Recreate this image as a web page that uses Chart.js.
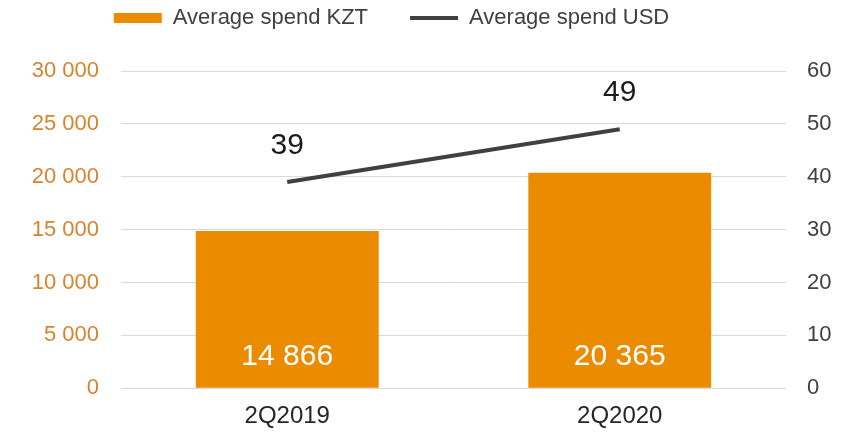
<!DOCTYPE html>
<html>
<head>
<meta charset="utf-8">
<script src="https://cdn.jsdelivr.net/npm/chart.js@4/dist/chart.umd.min.js"></script>
<style>
	html, body { margin: 0; padding: 0; background: #fff; }
	#wrap { width: 859px; height: 433px; }
</style>
</head>
<body>
<div id="wrap"><canvas id="spend"></canvas></div>
<script>
var quarters = ["2Q2019", "2Q2020"];
var spendKzt = [14866, 20365];
var spendUsd = [39, 49];
var kztTicks = [0, 5000, 10000, 15000, 20000, 25000, 30000];
var usdTicks = [0, 10, 20, 30, 40, 50, 60];

var fontName = "'Liberation Sans', Arial, sans-serif";
var orange = "#EA8B00";
var dark = "#404040";

function formatNumber(n)
{
	return String(n).replace(/\B(?=(\d{3})+(?!\d))/g, " ");
}

// draws the numbers on bars and above the line points
var valueLabels = {
	id: "valueLabels",
	afterDatasetsDraw: function(chart) {
		var ctx = chart.ctx;
		ctx.save();
		ctx.textAlign = "center";
		ctx.textBaseline = "middle";
		ctx.font = "30px " + fontName;

		var bars = chart.getDatasetMeta(0).data;
		ctx.fillStyle = "#ffffff";
		for (var i = 0; i < bars.length; i++) {
			ctx.fillText(formatNumber(spendKzt[i]), bars[i].x, bars[i].base - 31);
		}

		var points = chart.getDatasetMeta(1).data;
		ctx.fillStyle = "#1a1a1a";
		for (var j = 0; j < points.length; j++) {
			ctx.fillText(String(spendUsd[j]), points[j].x, points[j].y - 36);
		}
		ctx.restore();
	}
};

var chart = new Chart(document.getElementById("spend").getContext("2d"), {
	data: {
		labels: quarters,
		datasets: [{
			type: "bar",
			label: "Average spend KZT",
			data: spendKzt,
			backgroundColor: orange,
			borderWidth: 0,
			yAxisID: "y",
			categoryPercentage: 1,
			barPercentage: 0.55
		}, {
			type: "line",
			label: "Average spend USD",
			data: spendUsd,
			borderColor: dark,
			backgroundColor: dark,
			borderWidth: 4,
			pointRadius: 0,
			yAxisID: "y1"
		}]
	},
	options: {
		responsive: true,
		maintainAspectRatio: false,
		animation: false,
		layout: { padding: { top: -35, left: -76, right: 0, bottom: -12 } },
		plugins: {
			tooltip: { enabled: false },
			// empty title used as a gap between legend and plot
			title: {
				display: true,
				text: "",
				weight: 500,
				font: { size: 10 },
				padding: { top: 20, bottom: 0 }
			},
			legend: {
				display: true,
				position: "top",
				align: "center",
				labels: {
					usePointStyle: true,
					pointStyleWidth: 48,
					boxHeight: 10,
					padding: 42,
					color: dark,
					font: { family: fontName, size: 22 },
					generateLabels: function(c) {
						var items = Chart.defaults.plugins.legend.labels.generateLabels(c);
						items[0].pointStyle = "rect";
						items[0].lineWidth = 0;
						items[1].pointStyle = "line";
						items[1].lineWidth = 4;
						items[1].strokeStyle = dark;
						return items;
					}
				}
			}
		},
		scales: {
			x: {
				grid: { display: false, drawTicks: false },
				border: { display: false },
				ticks: { color: "#262626", padding: 14, font: { family: fontName, size: 24 } }
			},
			y: {
				position: "left",
				min: 0,
				max: 30000,
				afterFit: function(scale) { scale.width = 197; },
				afterBuildTicks: function(scale) {
					scale.ticks = kztTicks.map(function(v) { return { value: v }; });
				},
				grid: { color: "#D9D9D9", lineWidth: 1, drawTicks: false },
				border: { display: false },
				ticks: {
					color: "#D5852F",
					padding: 22,
					font: { family: fontName, size: 22 },
					callback: function(v) { return formatNumber(v); }
				}
			},
			y1: {
				position: "right",
				min: 0,
				max: 60,
				afterFit: function(scale) { scale.width = 73; },
				afterBuildTicks: function(scale) {
					scale.ticks = usdTicks.map(function(v) { return { value: v }; });
				},
				grid: { display: false, drawTicks: false },
				border: { display: false },
				ticks: {
					color: dark,
					padding: 21,
					font: { family: fontName, size: 22 }
				}
			}
		}
	},
	plugins: [valueLabels]
});
</script>
</body>
</html>
